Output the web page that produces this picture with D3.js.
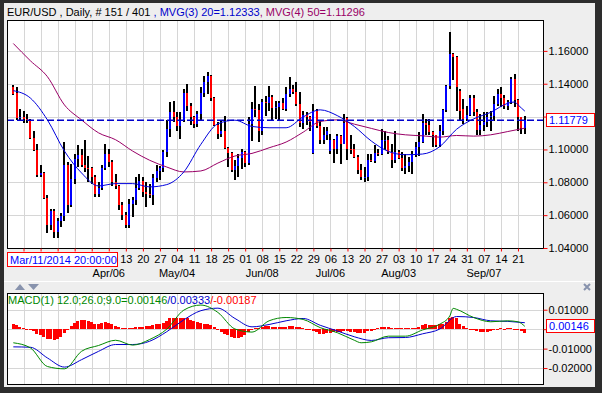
<!DOCTYPE html>
<html>
<head>
<meta charset="utf-8">
<script src="https://cdn.jsdelivr.net/npm/d3@7"></script>
<style>
  body { margin: 0; background: #fff; }
  svg { display: block; font-family: "Liberation Sans", Arial, sans-serif; font-size: 11px; }
</style>
</head>
<body>
<div id="chart"></div>
<script>
// trading days shown (weekdays only)
var firstDay = new Date(Date.UTC(2015, 1, 25)),
    lastDay = new Date(Date.UTC(2015, 8, 24));

// daily bars
var open = [1.1380,1.1345,1.1192,1.1198,1.1185,1.1177,1.1070,1.0995,1.0842,1.0858,
  1.0705,1.0540,1.0628,1.0495,1.0565,1.0592,1.0905,1.0660,1.0820,1.0940,
  1.0965,1.0905,1.0890,1.0885,1.0830,1.0730,1.0765,1.0885,1.0975,1.0925,
  1.0800,1.0780,1.0660,1.0600,1.0540,1.0665,1.0690,1.0765,1.0805,1.0740,
  1.0730,1.0720,1.0825,1.0870,1.0885,1.0985,1.1125,1.1225,1.1200,1.1145,
  1.1180,1.1345,1.1265,1.1200,1.1155,1.1215,1.1345,1.1410,1.1450,1.1315,
  1.1150,1.1095,1.1110,1.1010,1.0980,1.0875,1.0900,1.0945,1.0985,1.0920,
  1.1155,1.1245,1.1240,1.1115,1.1290,1.1285,1.1320,1.1255,1.1260,1.1280,
  1.1245,1.1335,1.1365,1.1350,1.1275,1.1160,1.1210,1.1200,1.0980,1.1235,
  1.1145,1.1060,1.1085,1.0990,1.1055,1.1005,1.1080,1.1035,1.1190,1.1005,
  1.1000,1.0955,1.0875,1.0830,1.0830,1.0935,1.0930,1.0980,1.0970,1.1060,
  1.1060,1.0985,1.0935,1.0985,1.0950,1.0890,1.0900,1.0925,1.0965,1.1015,
  1.1045,1.1160,1.1150,1.1105,1.1085,1.1025,1.1115,1.1240,1.1385,1.1580,
  1.1560,1.1358,1.1245,1.1185,1.1210,1.1315,1.1230,1.1120,1.1150,1.1170,
  1.1200,1.1205,1.1275,1.1340,1.1315,1.1265,1.1290,1.1430,1.1300,1.1195,
  1.1130];
var high = [1.1390,1.1378,1.1247,1.1232,1.1218,1.1186,1.1112,1.1031,1.0905,1.0862,
  1.0725,1.0640,1.0638,1.0580,1.0615,1.1043,1.0924,1.0913,1.0974,1.1024,
  1.1004,1.1055,1.0958,1.0895,1.0843,1.0800,1.0903,1.1031,1.1000,1.0934,
  1.0850,1.0785,1.0681,1.0620,1.0701,1.0711,1.0833,1.0850,1.0833,1.0802,
  1.0792,1.0850,1.0903,1.0900,1.0994,1.1180,1.1287,1.1297,1.1226,1.1226,
  1.1368,1.1398,1.1280,1.1205,1.1237,1.1378,1.1449,1.1469,1.1452,1.1320,
  1.1166,1.1176,1.1206,1.1012,1.0985,1.0934,1.0974,1.1004,1.0990,1.1196,
  1.1287,1.1388,1.1277,1.1307,1.1327,1.1388,1.1330,1.1297,1.1297,1.1313,
  1.1378,1.1439,1.1390,1.1408,1.1348,1.1237,1.1226,1.1206,1.1277,1.1245,
  1.1176,1.1135,1.1135,1.1095,1.1065,1.1095,1.1090,1.1216,1.1200,1.1085,
  1.1035,1.0964,1.0913,1.0893,1.0974,1.0974,1.1024,1.1004,1.1125,1.1115,
  1.1080,1.1035,1.1115,1.0994,1.0984,1.0974,1.0954,1.0990,1.1045,1.1105,
  1.1215,1.1186,1.1186,1.1115,1.1090,1.1150,1.1247,1.1390,1.1714,1.1590,
  1.1570,1.1365,1.1307,1.1267,1.1330,1.1330,1.1247,1.1216,1.1226,1.1226,
  1.1237,1.1327,1.1365,1.1378,1.1330,1.1300,1.1439,1.1459,1.1305,1.1200,
  1.1206];
var low = [1.1330,1.1178,1.1176,1.1160,1.1158,1.1062,1.0988,1.0835,1.0833,1.0700,
  1.0494,1.0510,1.0462,1.0458,1.0525,1.0565,1.0612,1.0651,1.0790,1.0893,
  1.0893,1.0863,1.0802,1.0790,1.0711,1.0711,1.0752,1.0873,1.0893,1.0780,
  1.0762,1.0631,1.0570,1.0520,1.0520,1.0590,1.0660,1.0752,1.0711,1.0651,
  1.0705,1.0661,1.0802,1.0812,1.0860,1.0954,1.1075,1.1170,1.1110,1.1065,
  1.1170,1.1237,1.1150,1.1130,1.1135,1.1175,1.1317,1.1338,1.1297,1.1140,
  1.1062,1.1075,1.1004,1.0893,1.0865,1.0812,1.0833,1.0883,1.0893,1.0905,
  1.1050,1.1200,1.1045,1.1085,1.1206,1.1237,1.1176,1.1186,1.1176,1.1241,
  1.1237,1.1320,1.1340,1.1267,1.1135,1.1125,1.1146,1.1115,1.0974,1.1130,
  1.1035,1.1035,1.1055,1.0970,1.0915,1.0974,1.0913,1.1035,1.0934,1.0974,
  1.0950,1.0853,1.0815,1.0802,1.0810,1.0924,1.0915,1.0960,1.0965,1.0994,
  1.0974,1.0885,1.0915,1.0940,1.0870,1.0849,1.0863,1.0850,1.0954,1.0960,
  1.1040,1.1085,1.1085,1.1014,1.1014,1.1014,1.1085,1.1226,1.1370,1.1420,
  1.1237,1.1176,1.1156,1.1176,1.1205,1.1206,1.1085,1.1085,1.1115,1.1135,
  1.1115,1.1176,1.1265,1.1257,1.1245,1.1240,1.1277,1.1257,1.1115,1.1095,
  1.1095];
var close = [1.1340,1.1192,1.1198,1.1185,1.1177,1.1070,1.0995,1.0842,1.0858,1.0705,
  1.0540,1.0628,1.0495,1.0565,1.0592,1.0905,1.0660,1.0820,1.0940,1.0965,
  1.0905,1.0890,1.0885,1.0830,1.0730,1.0765,1.0885,1.0975,1.0925,1.0800,
  1.0780,1.0660,1.0600,1.0540,1.0665,1.0690,1.0765,1.0805,1.0740,1.0730,
  1.0720,1.0825,1.0870,1.0885,1.0985,1.1125,1.1225,1.1200,1.1145,1.1180,
  1.1345,1.1265,1.1200,1.1155,1.1215,1.1345,1.1410,1.1450,1.1315,1.1150,
  1.1095,1.1110,1.1010,1.0980,1.0875,1.0900,1.0945,1.0985,1.0920,1.1155,
  1.1245,1.1240,1.1115,1.1290,1.1285,1.1320,1.1255,1.1260,1.1280,1.1245,
  1.1335,1.1365,1.1350,1.1275,1.1160,1.1210,1.1200,1.1165,1.1235,1.1145,
  1.1060,1.1085,1.1110,1.1055,1.1005,1.1080,1.1035,1.1160,1.1005,1.1000,
  1.0955,1.0875,1.0830,1.0830,1.0935,1.0930,1.0980,1.0970,1.1060,1.1060,
  1.0985,1.0935,1.0985,1.0950,1.0890,1.0900,1.0925,1.0965,1.1015,1.1045,
  1.1160,1.1150,1.1105,1.1085,1.1025,1.1115,1.1240,1.1385,1.1580,1.1560,
  1.1378,1.1237,1.1185,1.1210,1.1315,1.1230,1.1120,1.1150,1.1170,1.1200,
  1.1205,1.1275,1.1340,1.1315,1.1265,1.1290,1.1430,1.1300,1.1195,1.1130,
  1.11779];

// moving averages [bar index, value]
var ma20 = [[0,1.1358],[5,1.1313],[10,1.1180],[15,1.0990],[20,1.0857],[25,1.0778],
  [30,1.0792],[35,1.0792],[40,1.0772],[45,1.0786],[50,1.0863],[55,1.1031],[60,1.1156],
  [65,1.1178],[70,1.1140],[75,1.1132],[80,1.1132],[85,1.1198],[90,1.1241],[95,1.1206],
  [100,1.1140],[105,1.1051],[110,1.0988],[115,1.0968],[120,1.0972],[125,1.1016],
  [130,1.1123],[135,1.1186],[140,1.1226],[145,1.1281],[147,1.1289],[148,1.1272],
  [149,1.1252],[150,1.12333]];
var ma50 = [[0,1.1645],[5,1.1540],[10,1.1443],[15,1.1271],[20,1.1180],[25,1.1101],
  [30,1.1059],[35,1.0990],[40,1.0934],[45,1.0893],[50,1.0863],[55,1.0869],[60,1.0917],
  [65,1.0960],[70,1.0976],[75,1.1010],[80,1.1045],[85,1.1105],[90,1.1170],[95,1.1180],
  [100,1.1154],[105,1.1128],[110,1.1103],[115,1.1089],[120,1.1083],[125,1.1075],
  [130,1.1085],[135,1.1081],[140,1.1089],[145,1.1109],[150,1.11296]];

// MACD panel
var macdLine = [[0,-0.0070],[5,-0.0096],[10,-0.0192],[15,-0.0204],[20,-0.0114],[25,-0.0084],
  [30,-0.0057],[35,-0.0082],[40,-0.0053],[45,0.0000],[50,0.0098],[55,0.0124],[60,0.0086],
  [65,0.0001],[70,-0.0015],[75,0.0043],[80,0.0060],[85,0.0050],[90,0.0008],[95,-0.0018],
  [100,-0.0057],[102,-0.0070],[105,-0.0065],[110,-0.0036],[115,-0.0036],[120,-0.0004],
  [125,0.0025],[128,0.0068],[129,0.0107],[130,0.0102],[135,0.0060],[140,0.0038],
  [145,0.0043],[148,0.0038],[150,0.00146]];
var signalLine = [[0,-0.0091],[5,-0.0093],[10,-0.0148],[15,-0.0195],[20,-0.0157],[25,-0.0114],
  [30,-0.0079],[35,-0.0079],[40,-0.0062],[45,-0.0013],[50,0.0048],[55,0.0095],[60,0.0108],
  [65,0.0055],[70,0.0012],[75,0.0024],[80,0.0043],[85,0.0055],[90,0.0020],[95,-0.0009],
  [100,-0.0039],[105,-0.0058],[110,-0.0044],[115,-0.0043],[120,-0.0024],[125,0.0000],
  [130,0.0065],[135,0.0060],[140,0.0043],[145,0.0040],[150,0.00333]];
var hist = [0.0025,0.0022,0.0011,0.0008,0.0003,-0.0003,-0.0010,-0.0023,-0.0030,-0.0041,
  -0.0053,-0.0053,-0.0055,-0.0048,-0.0041,-0.0018,0.0003,0.0016,0.0034,0.0043,
  0.0046,0.0046,0.0043,0.0039,0.0029,0.0029,0.0034,0.0037,0.0034,0.0025,
  0.0018,0.0011,0.0008,0.0004,0.0008,0.0008,0.0013,0.0013,0.0013,0.0016,
  0.0016,0.0020,0.0025,0.0029,0.0034,0.0043,0.0055,0.0060,0.0060,0.0060,
  0.0060,0.0055,0.0048,0.0043,0.0037,0.0030,0.0029,0.0029,0.0022,0.0011,
  -0.0001,-0.0013,-0.0023,-0.0030,-0.0039,-0.0044,-0.0044,-0.0039,-0.0030,-0.0013,
  -0.0001,0.0008,0.0008,0.0013,0.0016,0.0016,0.0011,0.0011,0.0013,0.0013,
  0.0013,0.0015,0.0015,0.0013,0.0011,0.0008,0.0003,-0.0006,-0.0010,-0.0015,
  -0.0027,-0.0027,-0.0022,-0.0018,-0.0015,-0.0015,-0.0015,-0.0010,-0.0010,-0.0013,
  -0.0015,-0.0018,-0.0022,-0.0018,-0.0010,-0.0010,-0.0001,0.0008,0.0013,0.0013,
  0.0011,0.0008,0.0008,0.0008,0.0006,0.0006,0.0008,0.0008,0.0008,0.0011,
  0.0022,0.0025,0.0022,0.0022,0.0022,0.0025,0.0029,0.0039,0.0060,0.0063,
  0.0055,0.0029,0.0016,0.0008,0.0003,-0.0001,-0.0010,-0.0013,-0.0013,-0.0013,
  -0.0010,-0.0003,0.0003,0.0004,0.0003,0.0004,0.0006,0.0003,-0.0003,-0.0010,
  -0.00187];

var priceTicks = [1.04, 1.06, 1.08, 1.10, 1.12, 1.14, 1.16];
var macdTicks = [0.01, 0, -0.01, -0.02];
var monthLabels = ["Apr/06", "May/04", "Jun/08", "Jul/06", "Aug/03", "Sep/07"];
var lastPrice = 1.11779, lastMacd = 0.00146;
var cursorLabel = "Mar/11/2014 20:00:00";

var W = 602, H = 393;
var plot = {left: 7, right: 543, top: 20, bottom: 248};
var sub = {top: 293, bottom: 384};
var cursorBox = {x: 7.5, y: 252.5, w: 110, h: 14};

var dates = d3.utcDays(firstDay, lastDay).filter(function(d) { return d.getUTCDay() % 6 !== 0; });
var n = dates.length;
var mondays = d3.range(n).filter(function(i) { return dates[i].getUTCDay() === 1; });
var dayFmt = d3.utcFormat("%d"), monFmt = d3.utcFormat("%b/%d");

var x = d3.scaleLinear().domain([0, n - 1]).range([13.3, 524.8]);
var y = d3.scaleLinear().domain([1.04, 1.1788]).range([plot.bottom, plot.top]);
var ym = d3.scaleLinear().domain([-0.0282, 0.0186]).range([sub.bottom, sub.top]);

var fmt = d3.formatLocale({decimal: ".", thousands: ",", grouping: [3], currency: ["", ""], minus: "-"}).format(".5f");

var svg = d3.select("#chart").append("svg")
    .attr("width", W)
    .attr("height", H);

// window frame
svg.append("rect").attr("width", W).attr("height", H).attr("fill", "#2d2d2d");
svg.append("rect").attr("x", 4).attr("y", 3).attr("width", 591).attr("height", 384).attr("fill", "#eeeeee");
svg.append("line").attr("x1", 4).attr("x2", 595).attr("y1", 281.5).attr("y2", 281.5).attr("stroke", "#fff");

// title
var title = svg.append("text").attr("x", 7).attr("y", 16);
title.append("tspan").attr("fill", "#000").text("EUR/USD , Daily, # 151 / 401 ");
title.append("tspan").attr("fill", "#0000cc").text(", MVG(3) 20=1.12333");
title.append("tspan").attr("fill", "#990066").text(", MVG(4) 50=1.11296");

// panels
function panel(top, bottom, yScale, ticks, id) {
  svg.append("clipPath").attr("id", id).append("rect")
      .attr("x", plot.left).attr("y", top)
      .attr("width", plot.right - plot.left).attr("height", bottom - top);
  svg.append("rect")
      .attr("x", plot.left).attr("y", top)
      .attr("width", plot.right - plot.left).attr("height", bottom - top)
      .attr("fill", "#fff");
  var grid = svg.append("g").attr("shape-rendering", "crispEdges").attr("stroke", "#d6d6d6");
  grid.selectAll(".vg").data(mondays).enter().append("line")
      .attr("x1", function(i) { return Math.round(x(i)) + 0.5; })
      .attr("x2", function(i) { return Math.round(x(i)) + 0.5; })
      .attr("y1", top).attr("y2", bottom);
  grid.selectAll(".hg").data(ticks).enter().append("line")
      .attr("x1", plot.left).attr("x2", plot.right)
      .attr("y1", function(d) { return Math.round(yScale(d)) + 0.5; })
      .attr("y2", function(d) { return Math.round(yScale(d)) + 0.5; });
  return svg.append("g").attr("clip-path", "url(#" + id + ")");
}

var main = panel(plot.top, plot.bottom, y, priceTicks, "clipMain");

// OHLC bars: black high-low, coloured open-close
var bars = main.append("g").attr("shape-rendering", "crispEdges");
bars.selectAll(".hl").data(d3.range(n)).enter().append("rect")
    .attr("x", function(i) { return Math.round(x(i)) - 1; })
    .attr("width", 2)
    .attr("y", function(i) { return y(high[i]); })
    .attr("height", function(i) { return y(low[i]) - y(high[i]); })
    .attr("fill", "#000");
bars.selectAll(".oc").data(d3.range(n)).enter().append("rect")
    .attr("x", function(i) { return Math.round(x(i)) - 1; })
    .attr("width", 2)
    .attr("y", function(i) { return y(Math.max(open[i], close[i])); })
    .attr("height", function(i) { return Math.max(1, Math.abs(y(open[i]) - y(close[i]))); })
    .attr("fill", function(i) { return close[i] < open[i] ? "#ff0000" : "#0000ff"; });

var line = d3.line()
    .x(function(d) { return x(d[0]); })
    .curve(d3.curveMonotoneX);

main.append("path").datum(ma50)
    .attr("d", line.y(function(d) { return y(d[1]); }))
    .attr("fill", "none").attr("stroke", "#990066").attr("stroke-width", 1);
main.append("path").datum(ma20)
    .attr("d", line.y(function(d) { return y(d[1]); }))
    .attr("fill", "none").attr("stroke", "#0000dd").attr("stroke-width", 1);

main.append("line")
    .attr("x1", plot.left).attr("x2", plot.right)
    .attr("y1", y(lastPrice)).attr("y2", y(lastPrice))
    .attr("stroke", "#0000cc").attr("stroke-width", 1.5).attr("stroke-dasharray", "7,3");

// MACD panel
var macdG = panel(sub.top, sub.bottom, ym, macdTicks, "clipMacd");
macdG.append("g").attr("shape-rendering", "crispEdges")
  .selectAll("rect").data(hist).enter().append("rect")
    .attr("x", function(d, i) { return Math.round(x(i) - 1.7); })
    .attr("width", 3)
    .attr("y", function(d) { return Math.min(ym(0), ym(d)); })
    .attr("height", function(d) { return Math.max(1, Math.abs(ym(d) - ym(0))); })
    .attr("fill", "#ff0000");
macdG.append("path").datum(signalLine)
    .attr("d", line.y(function(d) { return ym(d[1]); }))
    .attr("fill", "none").attr("stroke", "#0000cc").attr("stroke-width", 1);
macdG.append("path").datum(macdLine)
    .attr("d", line.y(function(d) { return ym(d[1]); }))
    .attr("fill", "none").attr("stroke", "#008800").attr("stroke-width", 1);

var mlabel = svg.append("text").attr("x", 8).attr("y", 304);
mlabel.append("tspan").attr("fill", "#008800").text("MACD(1) 12.0;26.0;9.0=0.00146");
mlabel.append("tspan").attr("fill", "#0000cc").text("/0.00333");
mlabel.append("tspan").attr("fill", "#ff0000").text("/-0.00187");

// borders
[[plot.top, plot.bottom], [sub.top, sub.bottom]].forEach(function(p) {
  svg.append("rect")
      .attr("x", plot.left + 0.5).attr("y", p[0] + 0.5)
      .attr("width", plot.right - plot.left).attr("height", p[1] - p[0])
      .attr("fill", "none").attr("stroke", "#000");
});

// right axes; the label under the value box is left out, as it is hidden there
function rightAxis(scale, ticks, boxed) {
  var g = svg.append("g")
      .attr("transform", "translate(" + (plot.right + 0.5) + ",0)")
      .call(d3.axisRight(scale).tickValues(ticks).tickSize(4).tickPadding(1)
        .tickFormat(function(d) { return Math.abs(scale(d) - scale(boxed)) < 10 ? "" : fmt(d); }));
  g.select(".domain").remove();
  g.selectAll("line").attr("stroke", "#ff0000");
  g.attr("font-size", 11).attr("font-family", null);
  g.selectAll("text").attr("fill", "#000");
}
rightAxis(y, priceTicks, lastPrice);
rightAxis(ym, macdTicks, lastMacd);

function valueBox(v, scale) {
  var cy = Math.round(scale(v));
  svg.append("rect").attr("x", 546.5).attr("y", cy - 6.5).attr("width", 48).attr("height", 13)
      .attr("fill", "#fff").attr("stroke", "#ff0000");
  svg.append("text").attr("x", 549).attr("y", cy + 4).attr("fill", "#0000ff").text(fmt(v));
}
valueBox(lastPrice, y);
valueBox(lastMacd, ym);

// date axis: red marks on every Monday, day numbers where the cursor box leaves room
var xa = svg.append("g")
    .attr("transform", "translate(0," + (plot.bottom + 0.5) + ")")
    .call(d3.axisBottom(x).tickValues(mondays).tickSize(3).tickPadding(4)
      .tickFormat(function(i) { return x(i) - 8 > cursorBox.x + cursorBox.w ? dayFmt(dates[i]) : ""; }));
xa.select(".domain").remove();
xa.selectAll("line").attr("stroke", "#ff0000");
xa.attr("font-size", 11).attr("font-family", null);
xa.selectAll("text").attr("fill", "#000");

var monthTicks = mondays.filter(function(i) { return monthLabels.indexOf(monFmt(dates[i])) >= 0; });
svg.selectAll(".month").data(monthTicks).enter().append("text")
    .attr("x", function(i) { return x(i); })
    .attr("y", 277)
    .attr("text-anchor", "middle")
    .attr("fill", "#000")
    .text(function(i) { return monFmt(dates[i]); });

// cursor date box
svg.append("rect").attr("x", cursorBox.x).attr("y", cursorBox.y).attr("width", cursorBox.w).attr("height", cursorBox.h)
    .attr("fill", "#fff").attr("stroke", "#ff0000");
svg.append("text").attr("x", 10).attr("y", 263.5).attr("fill", "#0000ff").text(cursorLabel);

// panel controls
svg.append("path").attr("d", "M15,290L20,284L25,290Z").attr("fill", "#8893ad");
svg.append("path").attr("d", "M28,284L39,284L33.5,290Z").attr("fill", "#8893ad");
svg.append("path").attr("d", "M584,284L590,290M590,284L584,290")
    .attr("stroke", "#8893ad").attr("stroke-width", 2);
</script>
</body>
</html>
